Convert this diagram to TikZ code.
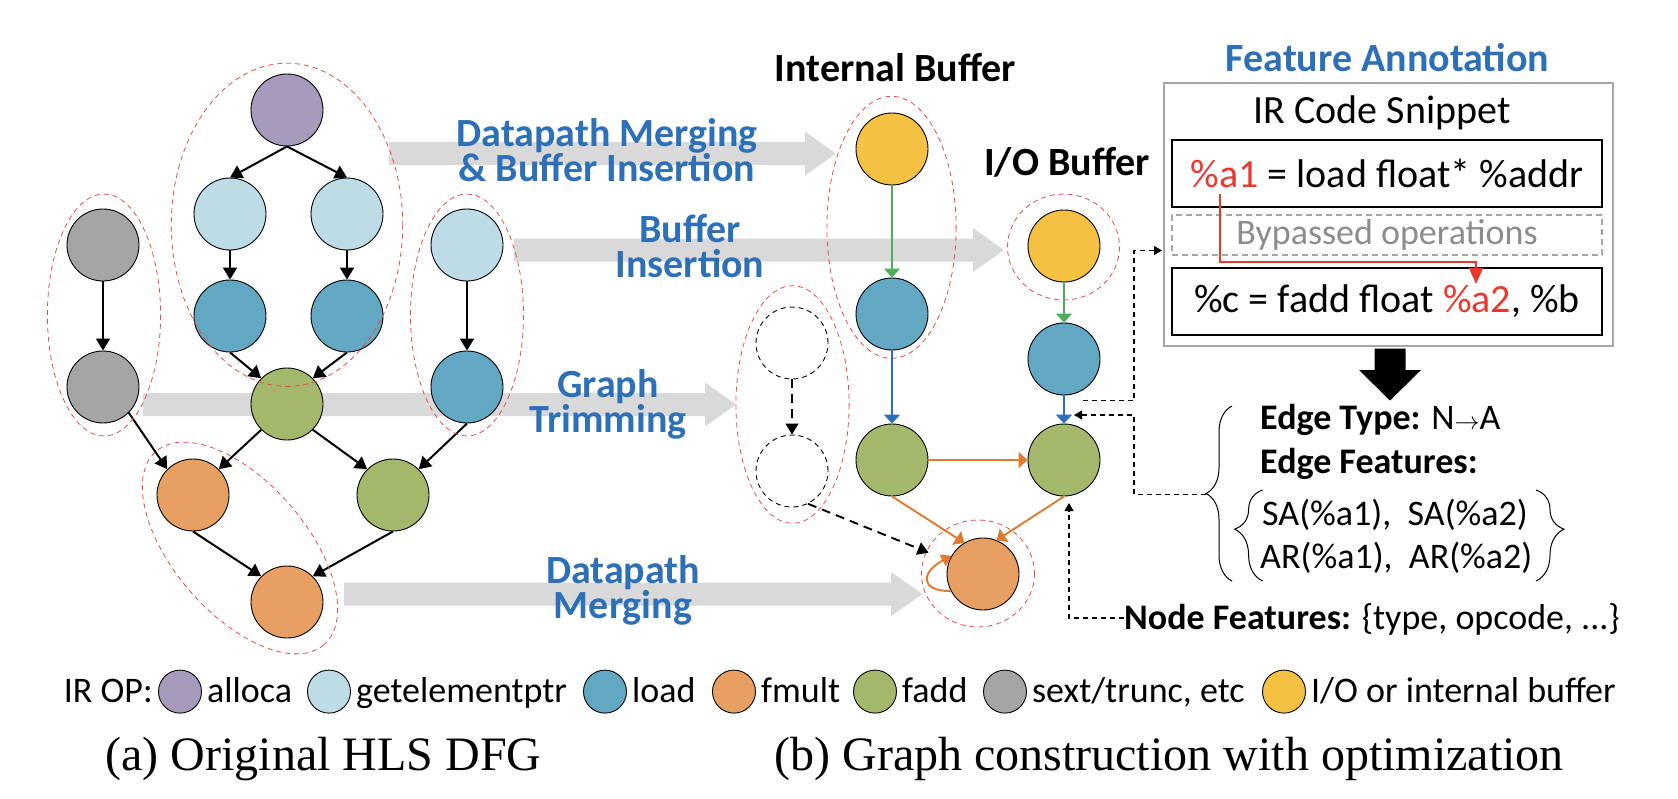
\documentclass[tikz,border=0pt]{standalone}
\usepackage{fontspec}
\setmainfont{Carlito}
\newfontfamily\capfont{Liberation Serif}
\usetikzlibrary{arrows.meta,positioning,decorations.pathreplacing}

\definecolor{allocaclr}{HTML}{A89ABD}
\definecolor{gepclr}{HTML}{BDDCE6}
\definecolor{loadclr}{HTML}{63A8C3}
\definecolor{fmulclr}{HTML}{E8A062}
\definecolor{faddclr}{HTML}{A4B86B}
\definecolor{sextclr}{HTML}{A5A5A5}
\definecolor{bufclr}{HTML}{F4C142}
\definecolor{stageblue}{HTML}{2E70B8}
\definecolor{bandgray}{HTML}{D9D9D9}
\definecolor{grpred}{HTML}{F04848}
\definecolor{flowgreen}{HTML}{4EAD5B}
\definecolor{flowblue}{HTML}{2F6EBA}
\definecolor{floworange}{HTML}{E07A2E}
\definecolor{codered}{HTML}{E8392C}
\definecolor{boxgray}{HTML}{A6A6A6}
\definecolor{bypgray}{HTML}{8C8C8C}

\begin{document}
\begin{tikzpicture}[x=1pt, y=-1pt,
    op/.style={circle, draw=black, line width=0.9pt, minimum size=72pt, inner sep=0pt},
    gone/.style={circle, draw=black, line width=0.9pt, dash pattern=on 5pt off 4pt, minimum size=72pt, inner sep=0pt},
    key/.style={circle, draw=black, line width=0.9pt, minimum size=43pt, inner sep=0pt},
    grp/.style={draw=grpred, line width=0.8pt, dash pattern=on 5pt off 4pt},
    dfg/.style={-{Triangle[length=12pt,width=14pt]}, line width=2pt},
    flow/.style={-{Triangle[length=9pt,width=16pt]}, line width=1.9pt},
    trimarr/.style={-{Triangle[length=11pt,width=13pt]}, line width=1.9pt, dash pattern=on 9pt off 6pt},
    link/.style={-{Triangle[length=8pt,width=9pt]}, line width=1.1pt, dash pattern=on 5pt off 4pt},
    stage/.style={text=stageblue, font=\fontsize{40}{35}\selectfont\bfseries, align=center, inner sep=0pt},
    head/.style={font=\fontsize{40}{35}\selectfont\bfseries, inner sep=0pt, anchor=base},
    code/.style={draw=black, line width=1.8pt, minimum width=430pt, minimum height=67pt, inner sep=0pt, font=\fontsize{40}{44}\selectfont},
    feat/.style={font=\fontsize{36}{40}\selectfont, inner sep=0pt, anchor=base west},
    legtext/.style={font=\fontsize{36}{40}\selectfont, inner sep=0pt},
    capt/.style={font=\capfont\fontsize{48}{52}\selectfont, inner sep=0pt, anchor=base}]

\useasboundingbox (0,0) rectangle (1678,798);

% gray stage arrows
\foreach \xs/\xb/\xt/\yc in {389/805/836/153.5, 514/973/1004/250, 143/705/736/404.5, 344/891/922.5/594} {
    \fill[bandgray] (\xs,\yc-11.5) -- (\xb,\yc-11.5) -- (\xb,\yc-22) -- (\xt,\yc)
        -- (\xb,\yc+22) -- (\xb,\yc+11.5) -- (\xs,\yc+11.5) -- cycle;
}

% (a) original DFG
\node[op, fill=allocaclr] (al) at (287,110) {};
\node[op, fill=gepclr] (gl) at (230,214) {};
\node[op, fill=gepclr] (gr) at (347,214) {};
\node[op, fill=loadclr] (ll) at (230,316) {};
\node[op, fill=loadclr] (lr) at (347,316) {};
\node[op, fill=sextclr] (sa) at (103,245) {};
\node[op, fill=sextclr] (sb) at (103,387) {};
\node[op, fill=gepclr] (g3) at (467,245) {};
\node[op, fill=loadclr] (l3) at (467,387) {};
\node[op, fill=faddclr] (a1) at (287,404) {};
\node[op, fill=fmulclr] (m1) at (193,495) {};
\node[op, fill=faddclr] (a2) at (393,495) {};
\node[op, fill=fmulclr] (m2) at (287,602) {};
\foreach \s/\t in {al.south/gl.north, al.south/gr.north, gl/ll, gr/lr, sa/sb, g3/l3,
    ll.south/a1.north west, lr.south/a1.north east, sb.south east/m1.north west,
    a1.south west/m1.north east, a1.south east/a2.north west, l3.south/a2.north east,
    m1.south/m2.north west, a2.south/m2.north east} {
    \draw[dfg] (\s) -- (\t);
}
\draw[grp] (287,224.8) ellipse [x radius=115.7, y radius=161.6];
\draw[grp] (104,315) ellipse [x radius=56.6, y radius=121];
\draw[grp] (467,315) ellipse [x radius=56.5, y radius=121];
\draw[grp] (240,548) ellipse [x radius=128, y radius=66, rotate=-49];

% (b) optimized graph
\node[op, fill=bufclr] (ib) at (892,149) {};
\node[op, fill=loadclr] (il) at (892,314) {};
\node[op, fill=faddclr] (ia) at (892,460) {};
\node[gone] (t1) at (792,343) {};
\node[gone] (t2) at (792,471) {};
\node[op, fill=bufclr] (ob) at (1064,246) {};
\node[op, fill=loadclr] (ol) at (1064,359) {};
\node[op, fill=faddclr] (oa) at (1064,460) {};
\node[op, fill=fmulclr] (mm) at (983,574) {};
\draw[grp] (891.5,227.3) ellipse [x radius=64.6, y radius=131];
\draw[grp] (1063.5,247) ellipse [x radius=56, y radius=53];
\draw[grp] (792.5,404.5) ellipse [x radius=56.6, y radius=118.8];
\draw[grp] (978,573.5) ellipse [x radius=56.5, y radius=53.5];
\draw[flow, flowgreen] (ib) -- (il);
\draw[flow, flowblue] (il) -- (ia);
\draw[flow, flowgreen] (ob) -- (ol);
\draw[flow, flowblue] (ol) -- (oa);
\draw[flow, floworange] (ia) -- (oa);
\draw[flow, floworange] (ia.south) -- (mm.121);
\draw[flow, floworange] (oa.south) -- (mm.68);
\draw[floworange, line width=1.9pt, -{Triangle[length=10pt,width=13pt]}]
    (mm.208) .. controls +(-32,0) and +(-30,16) .. (mm.150);
\draw[trimarr] (t1) -- (t2);
\draw[trimarr, shorten >=22pt] (t2.-64) -- (mm.159);

% stage labels
\node[stage] at (607,150) {Datapath Merging\\\& Buffer Insertion};
\node[stage] at (690,246.5) {Buffer\\Insertion};
\node[stage] at (608,404) {Graph\\Trimming};
\node[stage] at (623,590) {Datapath\\Merging};
\node[head] at (895.5,81.4) {Internal Buffer};
\node[head] at (1067,175) {I/O Buffer};
\node[head, text=stageblue] at (1387.5,71.4) {Feature Annotation};

% feature annotation
\node[draw=boxgray, line width=1.8pt, minimum width=449pt, minimum height=263pt] (snip) at (1388.5,214.5) {};
\node[font=\fontsize{40}{44}\selectfont, inner sep=0pt, anchor=base] at (1382,123) {IR Code Snippet};
\node[code] (c1) at (1387,173.5) {\textcolor{codered}{\%a1} = load float* \%addr};
\node[code, draw=boxgray, line width=1.3pt, dash pattern=on 6pt off 4pt, minimum height=40pt,
    text=bypgray, font=\fontsize{36}{40}\selectfont] (byp) at (1387,235) {Bypassed operations};
\node[code] (c2) at (1387,301.5) {\%c = fadd float \textcolor{codered}{\%a2}, \%b};
\coordinate (a1src) at (1220,194);
\coordinate (a2dst) at (1476,284);
\draw[codered, line width=1.3pt, -{Triangle[length=16pt,width=14pt]}] (a1src) -- ++(0,68) -| (a2dst);
\fill (1374.5,348.7) -- (1405.5,348.7) -- (1405.5,370) -- (1421,370) -- (1390,400.5)
    -- (1359,370) -- (1374.5,370) -- cycle;

\node[feat] (etype) at (1260,429) {\textbf{Edge Type:} N{\fontsize{46}{46}\selectfont$\rightarrow$}A};
\node[feat] (efeat) at (1260,473.7) {\textbf{Edge Features:}};
\node[feat] (sav) at (1262,525.5) {SA(\%a1),\ \ SA(\%a2)};
\node[feat] (arv) at (1260,568) {AR(\%a1),\ \ AR(\%a2)};
\node[feat] (nfeat) at (1124,629) {\textbf{Node Features:} \{type, opcode, ...\}};
\draw[line width=1pt, decorate, decoration={brace, amplitude=26pt}] (1232,581) -- (1232,406);
\draw[line width=1pt, decorate, decoration={brace, amplitude=28pt, aspect=0.57}] (1262.6,581) -- (1262.6,490);
\draw[line width=1pt, decorate, decoration={brace, amplitude=28pt, aspect=0.43}] (1536,490) -- (1536,581);

% dashed pointers
\coordinate (eo) at (1083,400.5);
\coordinate (bypin) at (1162,250.5);
\coordinate (btip) at (1205.5,494.4);
\coordinate (ei) at (1074,415);
\coordinate (ni) at (1069,503);
\draw[link] (eo) -- ++(51,0) |- (bypin);
\draw[link] (btip) -- ++(-71.5,0) |- (ei);
\draw[link] ([yshift=11pt]nfeat.base west) -| (ni);

% legend
\node[legtext, anchor=base west] (irop) at (63.6,702.3) {IR OP:};
\foreach \x/\c/\t/\n in {180/allocaclr/alloca/1, 329/gepclr/getelementptr/2, 605/loadclr/load/3,
    734/fmulclr/fmult/4, 875/faddclr/fadd/5, 1005/sextclr/{sext/trunc, etc}/6,
    1284/bufclr/{I/O or internal buffer}/7} {
    \node[key, fill=\c] (k\n) at (\x,691.6) {};
    \node[legtext, right=5pt of k\n, anchor=base west, yshift=-10.7pt] {\t};
}

% captions
\node[capt] at (323.5,770) {(a) Original HLS DFG};
\node[capt] at (1169,770) {(b) Graph construction with optimization};
\end{tikzpicture}
\end{document}
